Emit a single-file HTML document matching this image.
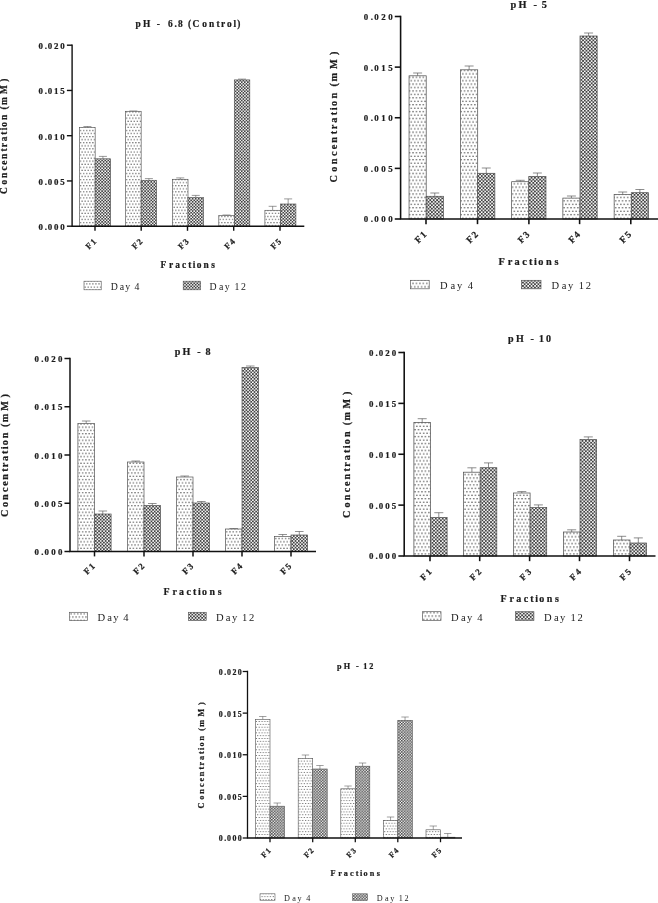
<!DOCTYPE html>
<html><head><meta charset="utf-8"><title>Fractions concentration at different pH</title>
<style>
html,body{margin:0;padding:0;background:#fff;}
body{width:658px;height:903px;overflow:hidden;}
svg{display:block;will-change:transform;}
text{font-family:"Liberation Serif","Times New Roman",serif;fill:#1c1c1c;white-space:pre;}
.b{font-weight:bold;stroke:#1c1c1c;stroke-width:0.22px;}
</style></head><body>
<svg width="658" height="903" viewBox="0 0 658 903">
<defs>
<pattern id="p4_1" width="3.07" height="6.14" patternUnits="userSpaceOnUse" patternTransform="translate(0 0) scale(1.0000)">
<rect width="3.07" height="6.14" fill="#fff"/>
<circle cx="0.77" cy="1.53" r="0.56" fill="#2a2a2a"/>
<circle cx="2.30" cy="4.60" r="0.56" fill="#2a2a2a"/>
</pattern>
<pattern id="p12_1" width="3.07" height="3.07" patternUnits="userSpaceOnUse" patternTransform="translate(0 0) scale(1.0000)">
<rect width="3.07" height="3.07" fill="#fff"/>
<rect x="0" y="0" width="1.68" height="1.68" fill="#444"/>
<rect x="1.535" y="1.535" width="1.68" height="1.68" fill="#444"/>
</pattern>
<pattern id="p4_2" width="3.07" height="6.14" patternUnits="userSpaceOnUse" patternTransform="translate(0 0) scale(1.1188)">
<rect width="3.07" height="6.14" fill="#fff"/>
<circle cx="0.77" cy="1.53" r="0.56" fill="#2a2a2a"/>
<circle cx="2.30" cy="4.60" r="0.56" fill="#2a2a2a"/>
</pattern>
<pattern id="p12_2" width="3.07" height="3.07" patternUnits="userSpaceOnUse" patternTransform="translate(0 0) scale(1.1188)">
<rect width="3.07" height="3.07" fill="#fff"/>
<rect x="0" y="0" width="1.68" height="1.68" fill="#444"/>
<rect x="1.535" y="1.535" width="1.68" height="1.68" fill="#444"/>
</pattern>
<pattern id="p4_3" width="3.07" height="6.14" patternUnits="userSpaceOnUse" patternTransform="translate(0 0) scale(1.0663)">
<rect width="3.07" height="6.14" fill="#fff"/>
<circle cx="0.77" cy="1.53" r="0.56" fill="#2a2a2a"/>
<circle cx="2.30" cy="4.60" r="0.56" fill="#2a2a2a"/>
</pattern>
<pattern id="p12_3" width="3.07" height="3.07" patternUnits="userSpaceOnUse" patternTransform="translate(0 0) scale(1.0663)">
<rect width="3.07" height="3.07" fill="#fff"/>
<rect x="0" y="0" width="1.68" height="1.68" fill="#444"/>
<rect x="1.535" y="1.535" width="1.68" height="1.68" fill="#444"/>
</pattern>
<pattern id="p4_4" width="3.07" height="6.14" patternUnits="userSpaceOnUse" patternTransform="translate(0 0) scale(1.1243)">
<rect width="3.07" height="6.14" fill="#fff"/>
<circle cx="0.77" cy="1.53" r="0.56" fill="#2a2a2a"/>
<circle cx="2.30" cy="4.60" r="0.56" fill="#2a2a2a"/>
</pattern>
<pattern id="p12_4" width="3.07" height="3.07" patternUnits="userSpaceOnUse" patternTransform="translate(0 0) scale(1.1243)">
<rect width="3.07" height="3.07" fill="#fff"/>
<rect x="0" y="0" width="1.68" height="1.68" fill="#444"/>
<rect x="1.535" y="1.535" width="1.68" height="1.68" fill="#444"/>
</pattern>
<pattern id="p4_5" width="3.07" height="6.14" patternUnits="userSpaceOnUse" patternTransform="translate(0 0) scale(0.9199)">
<rect width="3.07" height="6.14" fill="#fff"/>
<circle cx="0.77" cy="1.53" r="0.56" fill="#2a2a2a"/>
<circle cx="2.30" cy="4.60" r="0.56" fill="#2a2a2a"/>
</pattern>
<pattern id="p12_5" width="3.07" height="3.07" patternUnits="userSpaceOnUse" patternTransform="translate(0 0) scale(0.9199)">
<rect width="3.07" height="3.07" fill="#fff"/>
<rect x="0" y="0" width="1.68" height="1.68" fill="#444"/>
<rect x="1.535" y="1.535" width="1.68" height="1.68" fill="#444"/>
</pattern>
</defs>
<rect width="658" height="903" fill="#fff"/>

<g id="chart1">
<path d="M87.40 127.60V126.50M83.40 126.50H91.40" stroke="#555" stroke-width="0.60" fill="none"/>
<path d="M102.90 158.80V156.40M98.90 156.40H106.90" stroke="#555" stroke-width="0.60" fill="none"/>
<rect x="79.65" y="127.60" width="15.50" height="98.60" fill="url(#p4_1)" stroke="#505050" stroke-width="0.65"/>
<rect x="95.15" y="158.80" width="15.50" height="67.40" fill="url(#p12_1)" stroke="#505050" stroke-width="0.65"/>
<path d="M133.40 111.30V111.00M129.40 111.00H137.40" stroke="#555" stroke-width="0.60" fill="none"/>
<path d="M148.90 180.30V178.60M144.90 178.60H152.90" stroke="#555" stroke-width="0.60" fill="none"/>
<rect x="125.65" y="111.30" width="15.50" height="114.90" fill="url(#p4_1)" stroke="#505050" stroke-width="0.65"/>
<rect x="141.15" y="180.30" width="15.50" height="45.90" fill="url(#p12_1)" stroke="#505050" stroke-width="0.65"/>
<path d="M180.25 179.30V177.90M176.25 177.90H184.25" stroke="#555" stroke-width="0.60" fill="none"/>
<path d="M195.75 197.60V195.40M191.75 195.40H199.75" stroke="#555" stroke-width="0.60" fill="none"/>
<rect x="172.50" y="179.30" width="15.50" height="46.90" fill="url(#p4_1)" stroke="#505050" stroke-width="0.65"/>
<rect x="188.00" y="197.60" width="15.50" height="28.60" fill="url(#p12_1)" stroke="#505050" stroke-width="0.65"/>
<path d="M226.55 215.60V215.00M222.55 215.00H230.55" stroke="#555" stroke-width="0.60" fill="none"/>
<path d="M242.05 79.90V79.10M238.05 79.10H246.05" stroke="#555" stroke-width="0.60" fill="none"/>
<rect x="218.80" y="215.60" width="15.50" height="10.60" fill="url(#p4_1)" stroke="#505050" stroke-width="0.65"/>
<rect x="234.30" y="79.90" width="15.50" height="146.30" fill="url(#p12_1)" stroke="#505050" stroke-width="0.65"/>
<path d="M272.65 210.30V206.30M268.65 206.30H276.65" stroke="#555" stroke-width="0.60" fill="none"/>
<path d="M288.15 204.00V198.90M284.15 198.90H292.15" stroke="#555" stroke-width="0.60" fill="none"/>
<rect x="264.90" y="210.30" width="15.50" height="15.90" fill="url(#p4_1)" stroke="#505050" stroke-width="0.65"/>
<rect x="280.40" y="204.00" width="15.50" height="22.20" fill="url(#p12_1)" stroke="#505050" stroke-width="0.65"/>
<path d="M72.10 44.50V226.90M71.40 226.20H304.30" stroke="#111" stroke-width="1.40" fill="none"/>
<path d="M66.90 226.20H72.10" stroke="#111" stroke-width="1.40"/>
<text class="b" x="38.50 44.69 47.78 53.96 60.15" y="230.20" font-size="8.90">0.000</text>
<path d="M66.90 180.95H72.10" stroke="#111" stroke-width="1.40"/>
<text class="b" x="38.50 44.69 47.78 53.96 60.15" y="184.95" font-size="8.90">0.005</text>
<path d="M66.90 135.70H72.10" stroke="#111" stroke-width="1.40"/>
<text class="b" x="38.50 44.69 47.78 53.96 60.15" y="139.70" font-size="8.90">0.010</text>
<path d="M66.90 90.45H72.10" stroke="#111" stroke-width="1.40"/>
<text class="b" x="38.50 44.69 47.78 53.96 60.15" y="94.45" font-size="8.90">0.015</text>
<path d="M66.90 45.20H72.10" stroke="#111" stroke-width="1.40"/>
<text class="b" x="38.50 44.69 47.78 53.96 60.15" y="49.20" font-size="8.90">0.020</text>
<path d="M95.00 226.20V230.80" stroke="#111" stroke-width="1.40"/>
<text class="b" x="-5.40 1.10" y="3.00" font-size="8.60" transform="translate(90.80 243.80) rotate(-45)">F1</text>
<path d="M141.20 226.20V230.80" stroke="#111" stroke-width="1.40"/>
<text class="b" x="-5.40 1.10" y="3.00" font-size="8.60" transform="translate(137.00 243.80) rotate(-45)">F2</text>
<path d="M187.50 226.20V230.80" stroke="#111" stroke-width="1.40"/>
<text class="b" x="-5.40 1.10" y="3.00" font-size="8.60" transform="translate(183.30 243.80) rotate(-45)">F3</text>
<path d="M233.70 226.20V230.80" stroke="#111" stroke-width="1.40"/>
<text class="b" x="-5.40 1.10" y="3.00" font-size="8.60" transform="translate(229.50 243.80) rotate(-45)">F4</text>
<path d="M280.00 226.20V230.80" stroke="#111" stroke-width="1.40"/>
<text class="b" x="-5.40 1.10" y="3.00" font-size="8.60" transform="translate(275.80 243.80) rotate(-45)">F5</text>
<text class="b" x="135.40 142.88 153.33 156.70 161.17 164.53 167.90 174.62 177.98 184.70 188.06 192.54 202.25 208.97 216.45 220.93 226.89 233.62 237.35" y="27.10" font-size="9.40">pH -  6.8 (Control)</text>
<text class="b" x="160.50 168.97 175.13 182.06 188.22 192.83 196.69 203.62 211.33" y="267.80" font-size="9.40">Fractions</text>
<text class="b" x="0.00 9.52 16.11 23.43 29.28 35.13 42.46 46.85 52.70 59.29 63.67 67.34 73.92 81.25 84.55 88.94 99.91 112.35" y="0.00" font-size="9.40" transform="translate(7.30 194.00) rotate(-90)">Concentration (mM)</text>
<rect x="84.00" y="281.20" width="17.20" height="8.60" fill="url(#p4_1)" stroke="#555" stroke-width="0.60"/>
<text x="110.70 119.71 125.24 131.48 134.60" y="289.90" font-size="9.80">Day 4</text>
<rect x="183.20" y="281.20" width="17.40" height="8.60" fill="url(#p12_1)" stroke="#555" stroke-width="0.60"/>
<text x="209.50 218.95 224.75 231.29 234.56 241.10" y="289.90" font-size="9.80">Day 12</text>
</g>
<g id="chart2">
<path d="M417.62 75.80V73.00M413.15 73.00H422.10" stroke="#555" stroke-width="0.67" fill="none"/>
<path d="M434.77 196.30V193.00M430.30 193.00H439.25" stroke="#555" stroke-width="0.67" fill="none"/>
<rect x="409.05" y="75.80" width="17.15" height="143.20" fill="url(#p4_2)" stroke="#505050" stroke-width="0.73"/>
<rect x="426.20" y="196.30" width="17.15" height="22.70" fill="url(#p12_2)" stroke="#505050" stroke-width="0.73"/>
<path d="M469.12 69.80V66.00M464.65 66.00H473.60" stroke="#555" stroke-width="0.67" fill="none"/>
<path d="M486.27 173.30V168.00M481.80 168.00H490.75" stroke="#555" stroke-width="0.67" fill="none"/>
<rect x="460.55" y="69.80" width="17.15" height="149.20" fill="url(#p4_2)" stroke="#505050" stroke-width="0.73"/>
<rect x="477.70" y="173.30" width="17.15" height="45.70" fill="url(#p12_2)" stroke="#505050" stroke-width="0.73"/>
<path d="M520.22 181.70V180.30M515.75 180.30H524.70" stroke="#555" stroke-width="0.67" fill="none"/>
<path d="M537.38 176.40V173.00M532.90 173.00H541.85" stroke="#555" stroke-width="0.67" fill="none"/>
<rect x="511.65" y="181.70" width="17.15" height="37.30" fill="url(#p4_2)" stroke="#505050" stroke-width="0.73"/>
<rect x="528.80" y="176.40" width="17.15" height="42.60" fill="url(#p12_2)" stroke="#505050" stroke-width="0.73"/>
<path d="M571.42 198.10V196.00M566.95 196.00H575.90" stroke="#555" stroke-width="0.67" fill="none"/>
<path d="M588.58 36.00V33.00M584.10 33.00H593.05" stroke="#555" stroke-width="0.67" fill="none"/>
<rect x="562.85" y="198.10" width="17.15" height="20.90" fill="url(#p4_2)" stroke="#505050" stroke-width="0.73"/>
<rect x="580.00" y="36.00" width="17.15" height="183.00" fill="url(#p12_2)" stroke="#505050" stroke-width="0.73"/>
<path d="M622.72 194.40V192.00M618.25 192.00H627.20" stroke="#555" stroke-width="0.67" fill="none"/>
<path d="M639.88 192.70V189.50M635.40 189.50H644.35" stroke="#555" stroke-width="0.67" fill="none"/>
<rect x="614.15" y="194.40" width="17.15" height="24.60" fill="url(#p4_2)" stroke="#505050" stroke-width="0.73"/>
<rect x="631.30" y="192.70" width="17.15" height="26.30" fill="url(#p12_2)" stroke="#505050" stroke-width="0.73"/>
<path d="M400.60 15.72V219.78M399.82 219.00H660.00" stroke="#111" stroke-width="1.57" fill="none"/>
<path d="M394.78 219.00H400.60" stroke="#111" stroke-width="1.57"/>
<text class="b" x="363.70 370.74 374.26 381.31 388.35" y="222.40" font-size="8.90">0.000</text>
<path d="M394.78 168.38H400.60" stroke="#111" stroke-width="1.57"/>
<text class="b" x="363.70 370.74 374.26 381.31 388.35" y="171.78" font-size="8.90">0.005</text>
<path d="M394.78 117.75H400.60" stroke="#111" stroke-width="1.57"/>
<text class="b" x="363.70 370.74 374.26 381.31 388.35" y="121.15" font-size="8.90">0.010</text>
<path d="M394.78 67.12H400.60" stroke="#111" stroke-width="1.57"/>
<text class="b" x="363.70 370.74 374.26 381.31 388.35" y="70.53" font-size="8.90">0.015</text>
<path d="M394.78 16.50H400.60" stroke="#111" stroke-width="1.57"/>
<text class="b" x="363.70 370.74 374.26 381.31 388.35" y="19.90" font-size="8.90">0.020</text>
<path d="M426.00 219.00V224.15" stroke="#111" stroke-width="1.57"/>
<text class="b" x="-6.04 1.29" y="3.00" font-size="9.50" transform="translate(420.70 237.30) rotate(-45)">F1</text>
<path d="M477.50 219.00V224.15" stroke="#111" stroke-width="1.57"/>
<text class="b" x="-6.04 1.29" y="3.00" font-size="9.50" transform="translate(472.20 237.30) rotate(-45)">F2</text>
<path d="M528.90 219.00V224.15" stroke="#111" stroke-width="1.57"/>
<text class="b" x="-6.04 1.29" y="3.00" font-size="9.50" transform="translate(523.60 237.30) rotate(-45)">F3</text>
<path d="M579.60 219.00V224.15" stroke="#111" stroke-width="1.57"/>
<text class="b" x="-6.04 1.29" y="3.00" font-size="9.50" transform="translate(574.30 237.30) rotate(-45)">F4</text>
<path d="M630.80 219.00V224.15" stroke="#111" stroke-width="1.57"/>
<text class="b" x="-6.04 1.29" y="3.00" font-size="9.50" transform="translate(625.50 237.30) rotate(-45)">F5</text>
<text class="b" x="510.50 518.55 529.80 533.42 538.23 541.85" y="7.60" font-size="10.30">pH - 5</text>
<text class="b" x="498.50 507.83 514.61 522.24 529.02 534.11 538.35 545.99 554.48" y="264.90" font-size="10.30">Fractions</text>
<text class="b" x="0.00 10.80 18.28 26.60 33.24 39.88 48.20 53.19 59.83 67.31 72.29 76.44 83.92 92.24 95.98 100.97 113.43 127.55" y="0.00" font-size="10.30" transform="translate(337.20 182.50) rotate(-90)">Concentration (mM)</text>
<rect x="410.50" y="280.30" width="18.70" height="8.50" fill="url(#p4_2)" stroke="#555" stroke-width="0.67"/>
<text x="440.00 450.46 456.89 464.13 467.75" y="288.90" font-size="10.50">Day 4</text>
<rect x="521.50" y="280.30" width="19.50" height="8.50" fill="url(#p12_2)" stroke="#555" stroke-width="0.67"/>
<text x="551.50 561.74 568.03 575.12 578.66 585.75" y="288.90" font-size="10.50">Day 12</text>
</g>
<g id="chart3">
<path d="M86.20 423.50V421.00M81.93 421.00H90.47" stroke="#555" stroke-width="0.64" fill="none"/>
<path d="M102.80 514.00V511.00M98.53 511.00H107.07" stroke="#555" stroke-width="0.64" fill="none"/>
<rect x="77.90" y="423.50" width="16.60" height="128.00" fill="url(#p4_3)" stroke="#505050" stroke-width="0.69"/>
<rect x="94.50" y="514.00" width="16.60" height="37.50" fill="url(#p12_3)" stroke="#505050" stroke-width="0.69"/>
<path d="M135.70 462.00V461.00M131.43 461.00H139.97" stroke="#555" stroke-width="0.64" fill="none"/>
<path d="M152.30 505.50V503.50M148.03 503.50H156.57" stroke="#555" stroke-width="0.64" fill="none"/>
<rect x="127.40" y="462.00" width="16.60" height="89.50" fill="url(#p4_3)" stroke="#505050" stroke-width="0.69"/>
<rect x="144.00" y="505.50" width="16.60" height="46.00" fill="url(#p12_3)" stroke="#505050" stroke-width="0.69"/>
<path d="M184.70 477.00V476.00M180.43 476.00H188.97" stroke="#555" stroke-width="0.64" fill="none"/>
<path d="M201.30 503.00V501.50M197.03 501.50H205.57" stroke="#555" stroke-width="0.64" fill="none"/>
<rect x="176.40" y="477.00" width="16.60" height="74.50" fill="url(#p4_3)" stroke="#505050" stroke-width="0.69"/>
<rect x="193.00" y="503.00" width="16.60" height="48.50" fill="url(#p12_3)" stroke="#505050" stroke-width="0.69"/>
<path d="M233.70 529.00V528.50M229.43 528.50H237.97" stroke="#555" stroke-width="0.64" fill="none"/>
<path d="M250.30 367.50V366.00M246.03 366.00H254.57" stroke="#555" stroke-width="0.64" fill="none"/>
<rect x="225.40" y="529.00" width="16.60" height="22.50" fill="url(#p4_3)" stroke="#505050" stroke-width="0.69"/>
<rect x="242.00" y="367.50" width="16.60" height="184.00" fill="url(#p12_3)" stroke="#505050" stroke-width="0.69"/>
<path d="M282.70 536.50V534.50M278.43 534.50H286.97" stroke="#555" stroke-width="0.64" fill="none"/>
<path d="M299.30 535.00V531.50M295.03 531.50H303.57" stroke="#555" stroke-width="0.64" fill="none"/>
<rect x="274.40" y="536.50" width="16.60" height="15.00" fill="url(#p4_3)" stroke="#505050" stroke-width="0.69"/>
<rect x="291.00" y="535.00" width="16.60" height="16.50" fill="url(#p12_3)" stroke="#505050" stroke-width="0.69"/>
<path d="M70.00 357.75V552.25M69.25 551.50H316.00" stroke="#111" stroke-width="1.49" fill="none"/>
<path d="M64.46 551.50H70.00" stroke="#111" stroke-width="1.49"/>
<text class="b" x="34.50 41.23 44.59 51.32 58.05" y="555.10" font-size="8.90">0.000</text>
<path d="M64.46 503.25H70.00" stroke="#111" stroke-width="1.49"/>
<text class="b" x="34.50 41.23 44.59 51.32 58.05" y="506.85" font-size="8.90">0.005</text>
<path d="M64.46 455.00H70.00" stroke="#111" stroke-width="1.49"/>
<text class="b" x="34.50 41.23 44.59 51.32 58.05" y="458.60" font-size="8.90">0.010</text>
<path d="M64.46 406.75H70.00" stroke="#111" stroke-width="1.49"/>
<text class="b" x="34.50 41.23 44.59 51.32 58.05" y="410.35" font-size="8.90">0.015</text>
<path d="M64.46 358.50H70.00" stroke="#111" stroke-width="1.49"/>
<text class="b" x="34.50 41.23 44.59 51.32 58.05" y="362.10" font-size="8.90">0.020</text>
<path d="M94.50 551.50V556.40" stroke="#111" stroke-width="1.49"/>
<text class="b" x="-5.76 1.31" y="3.00" font-size="8.90" transform="translate(89.30 568.80) rotate(-45)">F1</text>
<path d="M144.00 551.50V556.40" stroke="#111" stroke-width="1.49"/>
<text class="b" x="-5.76 1.31" y="3.00" font-size="8.90" transform="translate(138.80 568.80) rotate(-45)">F2</text>
<path d="M193.00 551.50V556.40" stroke="#111" stroke-width="1.49"/>
<text class="b" x="-5.76 1.31" y="3.00" font-size="8.90" transform="translate(187.80 568.80) rotate(-45)">F3</text>
<path d="M242.00 551.50V556.40" stroke="#111" stroke-width="1.49"/>
<text class="b" x="-5.76 1.31" y="3.00" font-size="8.90" transform="translate(236.80 568.80) rotate(-45)">F4</text>
<path d="M291.00 551.50V556.40" stroke="#111" stroke-width="1.49"/>
<text class="b" x="-5.76 1.31" y="3.00" font-size="8.90" transform="translate(285.80 568.80) rotate(-45)">F5</text>
<text class="b" x="174.70 182.59 193.63 197.18 201.90 205.45" y="355.00" font-size="10.10">pH - 8</text>
<text class="b" x="163.50 172.52 179.08 186.46 193.02 197.94 202.04 209.42 217.64" y="595.40" font-size="9.90">Fractions</text>
<text class="b" x="0.00 10.13 17.14 24.94 31.17 37.39 45.19 49.86 56.09 63.10 67.77 71.67 78.68 86.48 89.99 94.66 106.35 119.58" y="0.00" font-size="10.20" transform="translate(8.40 517.00) rotate(-90)">Concentration (mM)</text>
<rect x="69.60" y="612.30" width="17.80" height="8.20" fill="url(#p4_3)" stroke="#555" stroke-width="0.64"/>
<text x="97.50 107.19 113.14 119.85 123.20" y="620.80" font-size="10.60">Day 4</text>
<rect x="188.50" y="612.30" width="17.70" height="8.20" fill="url(#p12_3)" stroke="#555" stroke-width="0.64"/>
<text x="216.00 225.83 231.88 238.69 242.09 248.90" y="620.80" font-size="10.60">Day 12</text>
</g>
<g id="chart4">
<path d="M422.20 422.50V418.70M417.70 418.70H426.70" stroke="#555" stroke-width="0.67" fill="none"/>
<path d="M438.80 517.40V512.70M434.30 512.70H443.30" stroke="#555" stroke-width="0.67" fill="none"/>
<rect x="413.90" y="422.50" width="16.60" height="133.50" fill="url(#p4_4)" stroke="#505050" stroke-width="0.73"/>
<rect x="430.50" y="517.40" width="16.60" height="38.60" fill="url(#p12_4)" stroke="#505050" stroke-width="0.73"/>
<path d="M471.90 472.20V467.80M467.40 467.80H476.40" stroke="#555" stroke-width="0.67" fill="none"/>
<path d="M488.50 467.70V462.90M484.00 462.90H493.00" stroke="#555" stroke-width="0.67" fill="none"/>
<rect x="463.60" y="472.20" width="16.60" height="83.80" fill="url(#p4_4)" stroke="#505050" stroke-width="0.73"/>
<rect x="480.20" y="467.70" width="16.60" height="88.30" fill="url(#p12_4)" stroke="#505050" stroke-width="0.73"/>
<path d="M521.80 493.00V491.60M517.30 491.60H526.30" stroke="#555" stroke-width="0.67" fill="none"/>
<path d="M538.40 507.60V504.90M533.90 504.90H542.90" stroke="#555" stroke-width="0.67" fill="none"/>
<rect x="513.50" y="493.00" width="16.60" height="63.00" fill="url(#p4_4)" stroke="#505050" stroke-width="0.73"/>
<rect x="530.10" y="507.60" width="16.60" height="48.40" fill="url(#p12_4)" stroke="#505050" stroke-width="0.73"/>
<path d="M571.70 532.00V529.80M567.20 529.80H576.20" stroke="#555" stroke-width="0.67" fill="none"/>
<path d="M588.30 439.60V436.90M583.80 436.90H592.80" stroke="#555" stroke-width="0.67" fill="none"/>
<rect x="563.40" y="532.00" width="16.60" height="24.00" fill="url(#p4_4)" stroke="#505050" stroke-width="0.73"/>
<rect x="580.00" y="439.60" width="16.60" height="116.40" fill="url(#p12_4)" stroke="#505050" stroke-width="0.73"/>
<path d="M621.70 540.00V536.30M617.20 536.30H626.20" stroke="#555" stroke-width="0.67" fill="none"/>
<path d="M638.30 543.00V537.90M633.80 537.90H642.80" stroke="#555" stroke-width="0.67" fill="none"/>
<rect x="613.40" y="540.00" width="16.60" height="16.00" fill="url(#p4_4)" stroke="#505050" stroke-width="0.73"/>
<rect x="630.00" y="543.00" width="16.60" height="13.00" fill="url(#p12_4)" stroke="#505050" stroke-width="0.73"/>
<path d="M404.20 351.71V556.79M403.41 556.00H655.50" stroke="#111" stroke-width="1.57" fill="none"/>
<path d="M398.35 556.00H404.20" stroke="#111" stroke-width="1.57"/>
<text class="b" x="369.00 375.50 378.75 385.25 391.75" y="559.40" font-size="8.90">0.000</text>
<path d="M398.35 505.12H404.20" stroke="#111" stroke-width="1.57"/>
<text class="b" x="369.00 375.50 378.75 385.25 391.75" y="508.52" font-size="8.90">0.005</text>
<path d="M398.35 454.25H404.20" stroke="#111" stroke-width="1.57"/>
<text class="b" x="369.00 375.50 378.75 385.25 391.75" y="457.65" font-size="8.90">0.010</text>
<path d="M398.35 403.38H404.20" stroke="#111" stroke-width="1.57"/>
<text class="b" x="369.00 375.50 378.75 385.25 391.75" y="406.77" font-size="8.90">0.015</text>
<path d="M398.35 352.50H404.20" stroke="#111" stroke-width="1.57"/>
<text class="b" x="369.00 375.50 378.75 385.25 391.75" y="355.90" font-size="8.90">0.020</text>
<path d="M430.00 556.00V561.17" stroke="#111" stroke-width="1.57"/>
<text class="b" x="-6.07 1.62" y="3.00" font-size="8.90" transform="translate(425.80 574.60) rotate(-45)">F1</text>
<path d="M479.70 556.00V561.17" stroke="#111" stroke-width="1.57"/>
<text class="b" x="-6.07 1.62" y="3.00" font-size="8.90" transform="translate(475.50 574.60) rotate(-45)">F2</text>
<path d="M529.60 556.00V561.17" stroke="#111" stroke-width="1.57"/>
<text class="b" x="-6.07 1.62" y="3.00" font-size="8.90" transform="translate(525.40 574.60) rotate(-45)">F3</text>
<path d="M579.50 556.00V561.17" stroke="#111" stroke-width="1.57"/>
<text class="b" x="-6.07 1.62" y="3.00" font-size="8.90" transform="translate(575.30 574.60) rotate(-45)">F4</text>
<path d="M629.50 556.00V561.17" stroke="#111" stroke-width="1.57"/>
<text class="b" x="-6.07 1.62" y="3.00" font-size="8.90" transform="translate(625.30 574.60) rotate(-45)">F5</text>
<text class="b" x="508.00 515.92 527.01 530.57 535.31 538.88 546.00" y="342.00" font-size="10.00">pH - 10</text>
<text class="b" x="500.50 509.60 516.21 523.66 530.27 535.23 539.37 546.82 555.10" y="601.50" font-size="10.00">Fractions</text>
<text class="b" x="0.00 10.43 17.65 25.68 32.09 38.50 46.53 51.34 57.75 64.97 69.78 73.79 81.01 89.04 92.65 97.46 109.49 123.12" y="0.00" font-size="10.10" transform="translate(349.70 518.00) rotate(-90)">Concentration (mM)</text>
<rect x="422.50" y="611.70" width="18.50" height="8.70" fill="url(#p4_4)" stroke="#555" stroke-width="0.67"/>
<text x="451.00 460.88 466.94 473.78 477.20" y="620.60" font-size="10.60">Day 4</text>
<rect x="515.40" y="611.70" width="18.50" height="8.70" fill="url(#p12_4)" stroke="#555" stroke-width="0.67"/>
<text x="544.00 553.98 560.12 567.03 570.49 577.40" y="620.60" font-size="10.60">Day 12</text>
</g>
<g id="chart5">
<path d="M262.75 719.40V716.50M259.07 716.50H266.43" stroke="#555" stroke-width="0.55" fill="none"/>
<path d="M277.25 806.20V803.00M273.57 803.00H280.93" stroke="#555" stroke-width="0.55" fill="none"/>
<rect x="255.50" y="719.40" width="14.50" height="118.60" fill="url(#p4_5)" stroke="#505050" stroke-width="0.60"/>
<rect x="270.00" y="806.20" width="14.50" height="31.80" fill="url(#p12_5)" stroke="#505050" stroke-width="0.60"/>
<path d="M305.45 758.50V755.00M301.77 755.00H309.13" stroke="#555" stroke-width="0.55" fill="none"/>
<path d="M319.95 769.00V765.50M316.27 765.50H323.63" stroke="#555" stroke-width="0.55" fill="none"/>
<rect x="298.20" y="758.50" width="14.50" height="79.50" fill="url(#p4_5)" stroke="#505050" stroke-width="0.60"/>
<rect x="312.70" y="769.00" width="14.50" height="69.00" fill="url(#p12_5)" stroke="#505050" stroke-width="0.60"/>
<path d="M348.05 788.80V786.00M344.37 786.00H351.73" stroke="#555" stroke-width="0.55" fill="none"/>
<path d="M362.55 766.20V763.00M358.87 763.00H366.23" stroke="#555" stroke-width="0.55" fill="none"/>
<rect x="340.80" y="788.80" width="14.50" height="49.20" fill="url(#p4_5)" stroke="#505050" stroke-width="0.60"/>
<rect x="355.30" y="766.20" width="14.50" height="71.80" fill="url(#p12_5)" stroke="#505050" stroke-width="0.60"/>
<path d="M390.55 820.30V817.00M386.87 817.00H394.23" stroke="#555" stroke-width="0.55" fill="none"/>
<path d="M405.05 720.30V717.00M401.37 717.00H408.73" stroke="#555" stroke-width="0.55" fill="none"/>
<rect x="383.30" y="820.30" width="14.50" height="17.70" fill="url(#p4_5)" stroke="#505050" stroke-width="0.60"/>
<rect x="397.80" y="720.30" width="14.50" height="117.70" fill="url(#p12_5)" stroke="#505050" stroke-width="0.60"/>
<path d="M433.25 829.80V826.00M429.57 826.00H436.93" stroke="#555" stroke-width="0.55" fill="none"/>
<path d="M447.75 837.20V833.50M444.07 833.50H451.43" stroke="#555" stroke-width="0.55" fill="none"/>
<rect x="426.00" y="829.80" width="14.50" height="8.20" fill="url(#p4_5)" stroke="#505050" stroke-width="0.60"/>
<rect x="440.50" y="837.20" width="14.50" height="0.80" fill="url(#p12_5)" stroke="#505050" stroke-width="0.60"/>
<path d="M247.50 670.86V838.64M246.86 838.00H462.00" stroke="#111" stroke-width="1.29" fill="none"/>
<path d="M242.72 838.00H247.50" stroke="#111" stroke-width="1.29"/>
<text class="b" x="218.70 224.17 226.91 232.38 237.85" y="841.40" font-size="7.90">0.000</text>
<path d="M242.72 796.38H247.50" stroke="#111" stroke-width="1.29"/>
<text class="b" x="218.70 224.17 226.91 232.38 237.85" y="799.77" font-size="7.90">0.005</text>
<path d="M242.72 754.75H247.50" stroke="#111" stroke-width="1.29"/>
<text class="b" x="218.70 224.17 226.91 232.38 237.85" y="758.15" font-size="7.90">0.010</text>
<path d="M242.72 713.12H247.50" stroke="#111" stroke-width="1.29"/>
<text class="b" x="218.70 224.17 226.91 232.38 237.85" y="716.52" font-size="7.90">0.015</text>
<path d="M242.72 671.50H247.50" stroke="#111" stroke-width="1.29"/>
<text class="b" x="218.70 224.17 226.91 232.38 237.85" y="674.90" font-size="7.90">0.020</text>
<path d="M270.00 838.00V842.23" stroke="#111" stroke-width="1.29"/>
<text class="b" x="-4.97 1.02" y="3.00" font-size="7.90" transform="translate(265.60 852.60) rotate(-45)">F1</text>
<path d="M312.70 838.00V842.23" stroke="#111" stroke-width="1.29"/>
<text class="b" x="-4.97 1.02" y="3.00" font-size="7.90" transform="translate(308.30 852.60) rotate(-45)">F2</text>
<path d="M355.30 838.00V842.23" stroke="#111" stroke-width="1.29"/>
<text class="b" x="-4.97 1.02" y="3.00" font-size="7.90" transform="translate(350.90 852.60) rotate(-45)">F3</text>
<path d="M397.80 838.00V842.23" stroke="#111" stroke-width="1.29"/>
<text class="b" x="-4.97 1.02" y="3.00" font-size="7.90" transform="translate(393.40 852.60) rotate(-45)">F4</text>
<path d="M440.50 838.00V842.23" stroke="#111" stroke-width="1.29"/>
<text class="b" x="-4.97 1.02" y="3.00" font-size="7.90" transform="translate(436.10 852.60) rotate(-45)">F5</text>
<text class="b" x="337.00 343.71 353.11 356.12 360.14 363.16 369.20" y="668.90" font-size="8.20">pH - 12</text>
<text class="b" x="330.50 338.20 343.79 350.10 355.69 359.89 363.39 369.69 376.70" y="875.80" font-size="8.20">Fractions</text>
<text class="b" x="0.00 8.76 14.83 21.58 26.96 32.35 39.10 43.14 48.52 54.59 58.63 62.00 68.07 74.82 77.85 81.89 92.00 103.45" y="0.00" font-size="8.20" transform="translate(203.90 808.50) rotate(-90)">Concentration (mM)</text>
<rect x="260.00" y="893.80" width="15.00" height="6.80" fill="url(#p4_5)" stroke="#555" stroke-width="0.55"/>
<text x="284.00 292.37 297.51 303.30 306.20" y="900.70" font-size="8.20">Day 4</text>
<rect x="352.60" y="893.80" width="14.90" height="6.80" fill="url(#p12_5)" stroke="#555" stroke-width="0.55"/>
<text x="376.80 385.11 390.22 395.97 398.85 404.60" y="900.70" font-size="8.20">Day 12</text>
</g>
</svg></body></html>
